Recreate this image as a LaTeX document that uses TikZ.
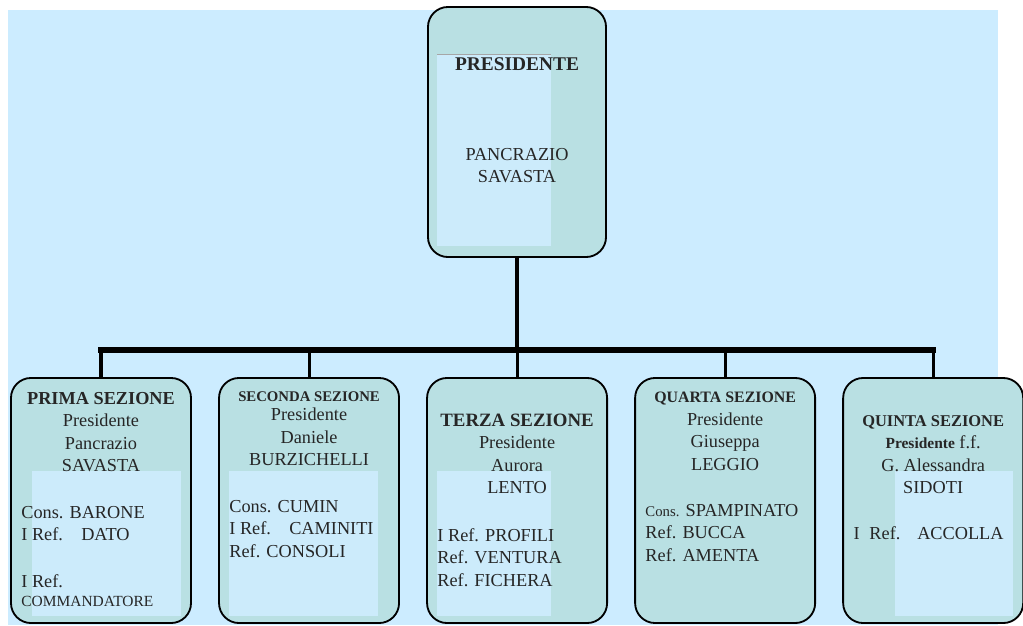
\documentclass[tikz,border=0pt]{standalone}
\usepackage{fontspec}
\setmainfont{Liberation Serif}
\usetikzlibrary{positioning}
\definecolor{bgblue}{HTML}{CCECFF}
\definecolor{boxteal}{HTML}{B9E0E3}
\definecolor{paneblue}{HTML}{CCEBFB}

\begin{document}
\begin{tikzpicture}[
  x=0.025cm, y=-0.025cm,
  node distance=0.654cm,
  office/.style={rectangle, draw, line width=1.3pt, fill=boxteal, rounded corners=0.5cm, minimum width=4.5cm, minimum height=6.125cm, inner sep=0pt},
  head/.style={align=center, inner sep=0pt, font=\fontsize{13}{16}\selectfont, text=black!85},
  staff/.style={align=left, anchor=north west, inner sep=0pt, font=\fontsize{13}{16}\selectfont, text=black!85},
  pane/.style={fill=paneblue},
  trunk/.style={line width=2.6pt},
  bus/.style={line width=3.6pt, line cap=rect},
  drop/.style={line width=2.2pt}
]
\useasboundingbox (0,0) rectangle (1023,625);
\fill[bgblue] (8,10) rectangle (998,625);

\node[office, minimum width=4.45cm, minimum height=6.25cm] (pres) at (517,132) {};
\node[office] (s1) at (101,500.5) {};
\node[office, right=of s1] (s2) {};
\node[office, right=of s2] (s3) {};
\node[office, right=of s3] (s4) {};
\node[office, right=of s4] (s5) {};

\fill[pane] (437,54) rectangle (551,246);
\draw[gray!70, line width=0.6pt] (437,54) -- (551,54);
\fill[pane] (32,471) rectangle (181,616);
\fill[pane] (229,471) rectangle (378,616);
\fill[pane] (437,471) rectangle (551,616);
\fill[pane] (895,471) rectangle (1013,616);

\coordinate (bar) at (517,350);
\draw[trunk] (pres.south) -- (bar);
\draw[bus] (bar -| s1.north) -- (bar -| s5.north);
\foreach \s in {s1,s2,s3,s4,s5}
  \draw[drop] (bar -| \s.north) -- (\s.north);

\node[head, below=1.275cm of pres.north] (presname) {{\bfseries\fontsize{13.8}{16}\selectfont PRESIDENTE}\\[48pt]PANCRAZIO\\SAVASTA};

\node[head, below=0.375cm of s1.north] (h1) {{\bfseries PRIMA SEZIONE}\\Presidente\\Pancrazio\\SAVASTA};
\node[staff] (m1) at ([xshift=0.275cm,yshift=-3.225cm]s1.north west) {Cons. BARONE\\I Ref.\quad DATO\\[17pt]I Ref.\\[-2.5pt]{\fontsize{11}{13}\selectfont COMMANDATORE}};

\node[head, below=0.35cm of s2.north] (h2) {{\bfseries\fontsize{10.5}{16}\selectfont SECONDA SEZIONE}\\[-2pt]Presidente\\Daniele\\BURZICHELLI};
\node[staff] (m2) at ([xshift=0.275cm,yshift=-3.075cm]s2.north west) {Cons. CUMIN\\I Ref.\quad CAMINITI\\Ref. CONSOLI};

\node[head, below=0.91cm of s3.north] (h3) {{\bfseries\fontsize{13.4}{16}\selectfont TERZA SEZIONE}\\Presidente\\Aurora\\LENTO};
\node[staff] (m3) at ([xshift=0.275cm,yshift=-3.775cm]s3.north west) {I Ref. PROFILI\\Ref. VENTURA\\Ref. FICHERA};

\node[head, below=0.375cm of s4.north] (h4) {{\bfseries\fontsize{11.3}{16}\selectfont QUARTA SEZIONE}\\Presidente\\Giuseppa\\LEGGIO};
\node[staff] (m4) at ([xshift=0.275cm,yshift=-3.175cm]s4.north west) {{\fontsize{10.5}{16}\selectfont Cons.} SPAMPINATO\\Ref. BUCCA\\Ref. AMENTA};

\node[head, below=0.95cm of s5.north] (h5) {{\bfseries\fontsize{11.7}{16}\selectfont QUINTA SEZIONE}\\{\bfseries\fontsize{11}{16}\selectfont Presidente} f.f.\\G. Alessandra\\SIDOTI};
\node[staff] (m5) at ([xshift=0.275cm,yshift=-3.725cm]s5.north west) {I\hspace{7pt}Ref.\hspace{12pt}ACCOLLA};
\end{tikzpicture}
\end{document}
